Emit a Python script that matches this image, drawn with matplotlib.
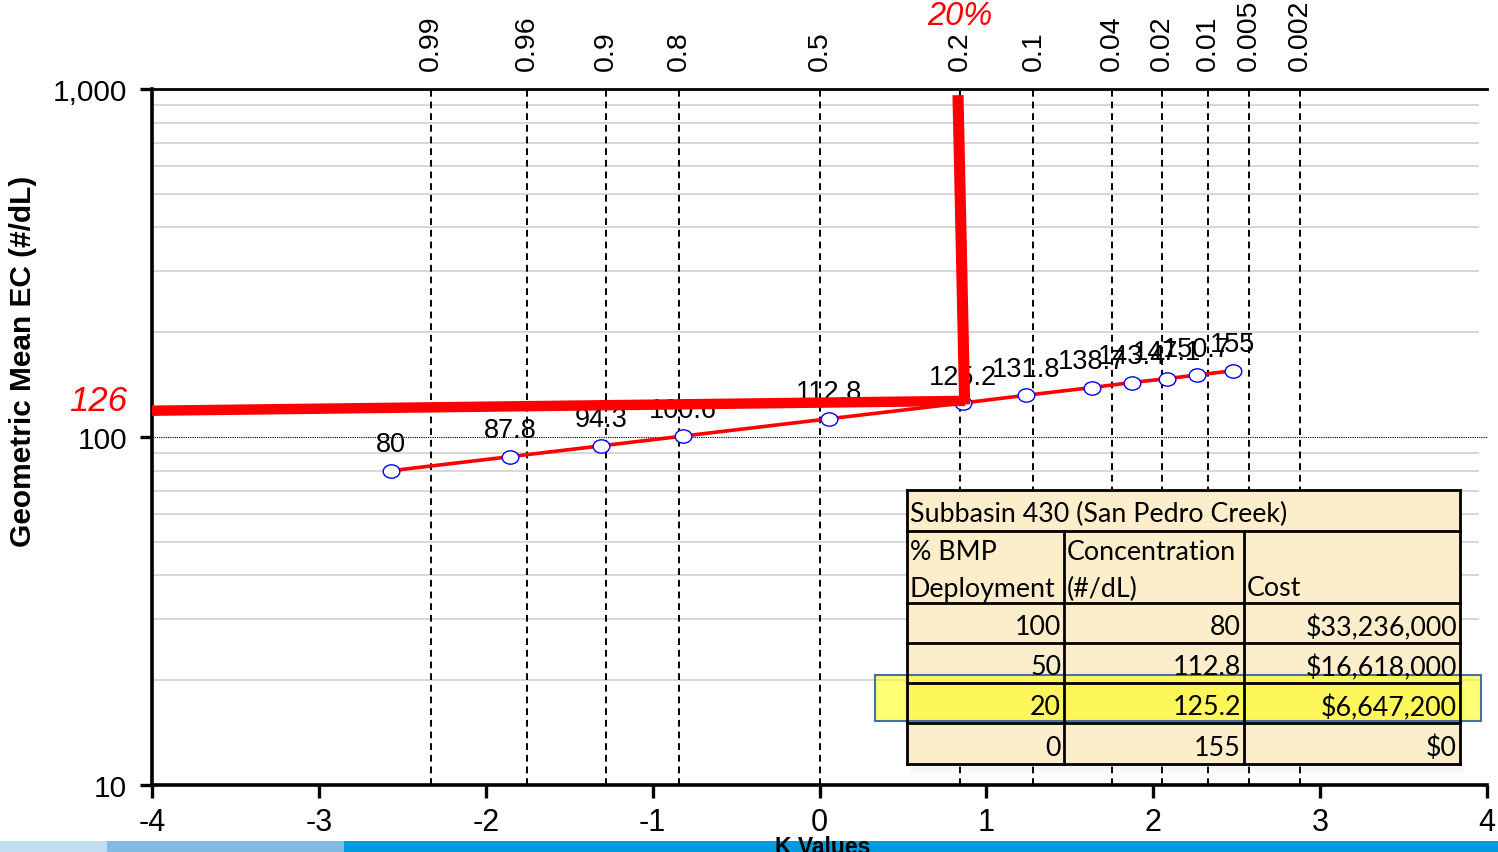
import numpy as np
import matplotlib.pyplot as plt
from matplotlib.patches import Rectangle
from matplotlib.path import Path
from matplotlib.transforms import Affine2D
from matplotlib.ticker import FixedLocator, NullFormatter

# K value and geometric mean EC for each BMP deployment scenario
k_vals = [-2.568, -1.855, -1.310, -0.818, 0.056, 0.859, 1.237, 1.632, 1.872, 2.082, 2.261, 2.477]
ec_vals = [80, 87.8, 94.3, 100.6, 112.8, 125.2, 131.8, 138.7, 143.4, 147.1, 150.7, 155]

# exceedance probabilities shown along the top, at their K positions
prob_labels = ['0.99', '0.96', '0.9', '0.8', '0.5', '0.2', '0.1', '0.04', '0.02', '0.01', '0.005', '0.002']
prob_k = [-2.326, -1.751, -1.282, -0.842, 0.0, 0.842, 1.282, 1.751, 2.054, 2.326, 2.576, 2.878]

# 20% exceedance target read-off
target_ec = 126
target_k = 0.842

# summary table
tbl_title = 'Subbasin 430 (San Pedro Creek)'
tbl_head = [['% BMP', 'Deployment'], ['Concentration', '(#/dL)'], ['', 'Cost']]
bmp_pct = ['100', '50', '20', '0']
bmp_conc = ['80', '112.8', '125.2', '155']
bmp_cost = ['$33,236,000', '$16,618,000', '$6,647,200', '$0']

W, H = 1498, 853
plt.rcParams['font.family'] = ['Liberation Sans', 'DejaVu Sans']
plt.rcParams['axes.unicode_minus'] = False

fig = plt.figure(figsize=(W / 100, H / 100), dpi=100)
ax = fig.add_axes([152 / W, 1 - 786 / H, (1487 - 152) / W, (786 - 90) / H])

def fx(x):
    return x / W

def fy(y):
    return 1 - y / H

ax.set_xlim(-4, 4)
ax.set_yscale('log')
ax.set_ylim(10, 1000)

# grid: light minor lines, dotted line at 100, dashed probability lines
minor = [m * 10 ** e for e in (1, 2) for m in range(2, 10)]
ax.hlines(minor, -4, 3.95, colors='#d4d4d4', lw=1.3, zorder=0)
ax.axhline(100, color='k', lw=0.8, ls=(0, (1, 1)), zorder=1)
ax.vlines(prob_k, 10, 1000, colors='k', lw=1.4, linestyles=(0, (3.5, 2.5)), zorder=1)

# data series
ell = Path.unit_circle().transformed(Affine2D().scale(1.25, 1.0))
ax.plot(k_vals, ec_vals, color='red', lw=2.6, zorder=3)
ax.plot(k_vals, ec_vals, ls='none', marker=ell, ms=12, mfc='white', mec='blue', mew=1.0, zorder=4)
for k, v in zip(k_vals, ec_vals):
    ax.annotate(f'{v:g}', (k, v), xytext=(0, 19), textcoords='offset points',
                ha='center', va='center', fontsize=19.5, zorder=5)

# hand-drawn read-off lines for the 20% target
ax.plot([-4, target_k + 0.03], [119, target_ec + 1], color='red', lw=7.5,
        solid_capstyle='butt', zorder=6)
ax.plot([target_k - 0.012, target_k + 0.028], [960, target_ec - 2], color='red', lw=8,
        solid_capstyle='butt', zorder=6)
ax.text(-4.32, target_ec + 1, str(target_ec), color='red', fontsize=25, style='italic',
        ha='center', va='center', clip_on=False)
ax.text(target_k + 0.0, 1.105, '20%', color='red', fontsize=23.5, style='italic',
        ha='center', va='center', transform=ax.get_xaxis_transform(), clip_on=False)

# axes styling
for s in ('left', 'bottom'):
    ax.spines[s].set_linewidth(2.6)
ax.spines['top'].set_linewidth(2.0)
ax.spines['right'].set_visible(False)
ax.set_yticks([10, 100, 1000])
ax.set_yticklabels(['10', '100', '1,000'])
ax.yaxis.set_minor_locator(FixedLocator([]))
ax.yaxis.set_minor_formatter(NullFormatter())
ax.set_xticks(range(-4, 5))
ax.tick_params(axis='x', labelsize=22, length=9, width=2.4, pad=7)
ax.tick_params(axis='y', labelsize=21.5, length=9, width=2.4, pad=9)
ax.set_ylabel('Geometric Mean EC (#/dL)', fontsize=21.5, fontweight='bold')
ax.yaxis.set_label_coords(-0.086, 0.61)

ax2 = ax.twiny()
ax2.set_xlim(-4, 4)
ax2.set_xticks(prob_k)
ax2.set_xticklabels(prob_labels, rotation=90)
ax2.tick_params(axis='x', length=0, labelsize=20.5, pad=14)
for s in ax2.spines.values():
    s.set_visible(False)

# table box
cols = [907, 1064, 1244, 1460]
rows = [491, 532, 604, 644, 684, 724, 765]
tfont = dict(family=['Lato', 'DejaVu Sans'], fontsize=19.3, color='black')

for i in range(5):
    fig.add_artist(Rectangle((fx(cols[0] + 4), fy(rows[-1] + 2 + i * 2)), fx(cols[-1] - cols[0]),
                             2 / H, transform=fig.transFigure, color='#b0a080', alpha=0.12 - i * 0.02, lw=0))
fig.add_artist(Rectangle((fx(cols[0]), fy(rows[-1])), fx(cols[-1] - cols[0]), (rows[-1] - rows[0]) / H,
                         transform=fig.transFigure, facecolor='#fdeecb', edgecolor='none'))
for y in rows:
    fig.add_artist(plt.Line2D([fx(cols[0]), fx(cols[-1])], [fy(y), fy(y)], color='k', lw=2.0,
                              transform=fig.transFigure))
for j, x in enumerate(cols):
    top = rows[0] if j in (0, len(cols) - 1) else rows[1]
    fig.add_artist(plt.Line2D([fx(x), fx(x)], [fy(top), fy(rows[-1])], color='k', lw=2.0,
                              transform=fig.transFigure))

fig.text(fx(cols[0] + 3), fy((rows[0] + rows[1]) / 2 + 3), tbl_title, ha='left', va='center', **tfont)
for j, (l1, l2) in enumerate(tbl_head):
    fig.text(fx(cols[j] + 3), fy(rows[1] + 21), l1, ha='left', va='center', **tfont)
    fig.text(fx(cols[j] + 3), fy(rows[1] + 57), l2, ha='left', va='center', **tfont)
for i in range(4):
    yc = fy((rows[2 + i] + rows[3 + i]) / 2 + 4)
    for j, val in enumerate((bmp_pct[i], bmp_conc[i], bmp_cost[i])):
        fig.text(fx(cols[j + 1] - 3), yc, val, ha='right', va='center', **tfont)

# highlight on the 20% row
fig.add_artist(Rectangle((fx(875), fy(722)), fx(1481 - 875), (722 - 676) / H, transform=fig.transFigure,
                         facecolor='#ffff00', alpha=0.55, edgecolor='none'))
fig.add_artist(Rectangle((fx(875), fy(722)), fx(1481 - 875), (722 - 676) / H, transform=fig.transFigure,
                         facecolor='none', edgecolor='#4a6fa5', lw=1.5))

# footer band with the x-axis title
for x0, x1, c in ((0, 107, '#c0ddf2'), (107, 344, '#7fbbe2'), (344, W, '#009bdc')):
    fig.add_artist(Rectangle((fx(x0), 0), fx(x1 - x0), 11 / H, transform=fig.transFigure, color=c, lw=0))
fig.text(fx(823), fy(836), 'K Values', ha='center', va='top', fontsize=16.5, fontweight='bold')

fig.savefig('out.png', dpi=100)
